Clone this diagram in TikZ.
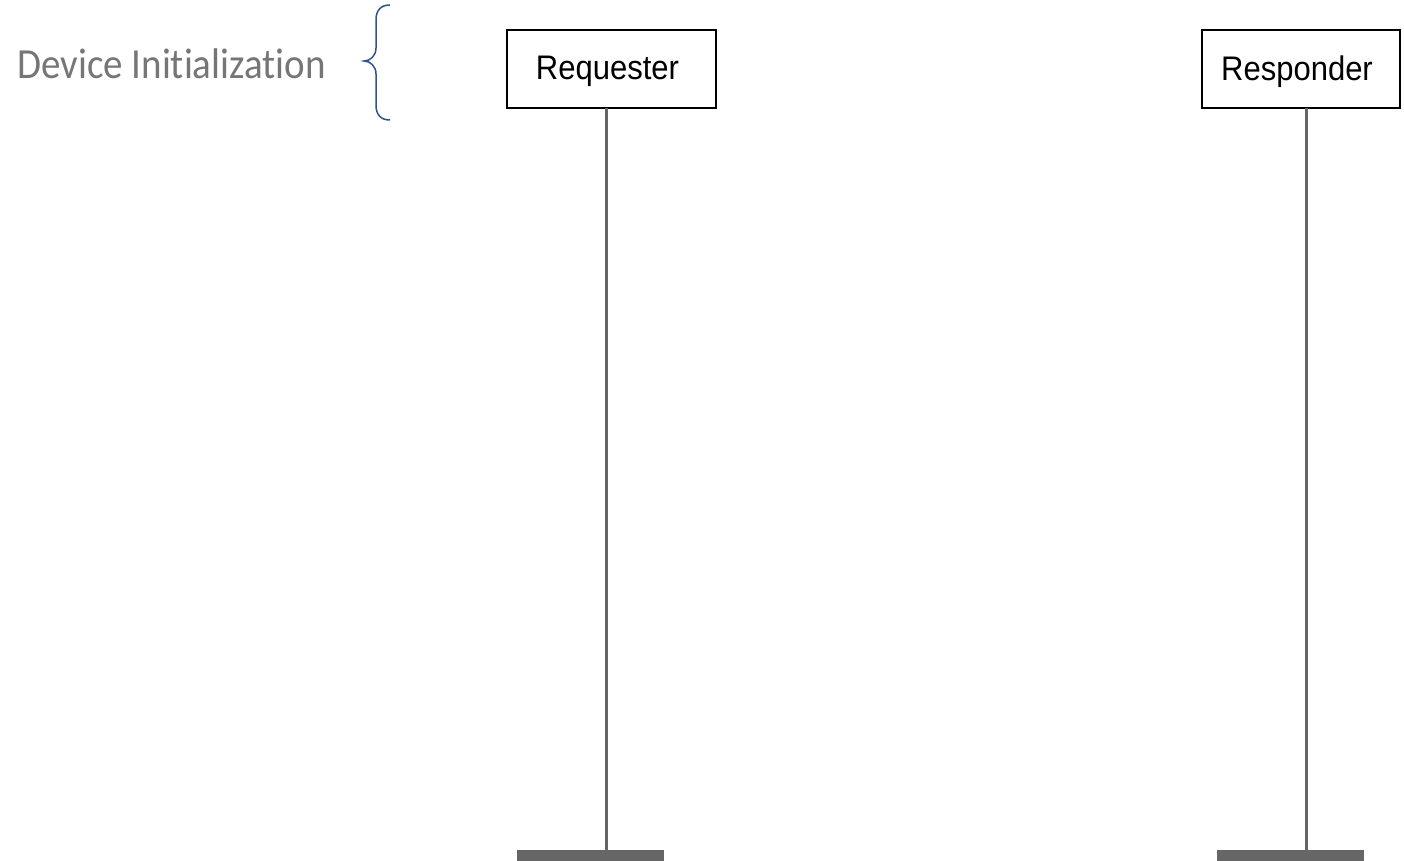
\documentclass[tikz,border=0pt]{standalone}
\usepackage{fontspec}
\setmainfont{Liberation Sans}
\newfontfamily\notefont[Ligatures=NoCommon]{Carlito}
\definecolor{lifegray}{HTML}{666666}
\definecolor{notegray}{HTML}{767676}
\definecolor{braceblue}{HTML}{2E5391}
% actor caption, nudged left and down inside its box without changing the box size
\newcommand\actorcaption[1]{\kern-4pt\raisebox{-2.5pt}[\height][\depth]{\scalebox{1}[1.1]{#1}}\kern4pt}
\begin{document}
\begin{tikzpicture}[x=1pt,y=-1pt,
  actor/.style={draw=black,line width=1.4pt,fill=white,inner sep=0pt,
    minimum height=78pt,font=\fontsize{31}{34}\selectfont},
  lifeline/.style={draw=lifegray,line width=3.5pt},
  endbar/.style={fill=lifegray,draw=none,inner sep=0pt,minimum width=147pt,minimum height=11pt},
  notetext/.style={text=notegray,inner sep=0pt,font=\notefont\fontsize{39}{42}\selectfont},
  bracestyle/.style={draw=braceblue,line width=1.5pt}]
\useasboundingbox (0,0) rectangle (1404,861);

% phase label and its brace
\node[notetext,anchor=base west] (phase) at (17,79) {\scalebox{1}[1.1]{Device Initialization}};
\draw[bracestyle] (390,5) .. controls (381,5) and (376,10) .. (376,20)
  -- (376,48) .. controls (376,56) and (370,61) .. (364,61)
  .. controls (370,61) and (376,66) .. (376,74)
  -- (376,105) .. controls (376,115) and (381,120) .. (390,120);

% participants
\node[actor,minimum width=209pt] (req) at (611.5,69) {\actorcaption{Requester}};
\node[actor,minimum width=198pt] (resp) at (1301,69) {\actorcaption{Responder}};

% end bars
\node[endbar] (reqend) at (590.5,855.5) {};
\node[endbar] (respend) at (1290.5,855.5) {};

% lifelines
\coordinate (reqtop) at (606.7,108);
\coordinate (resptop) at (1306.7,108);
\draw[lifeline] (reqtop) -- (reqtop |- reqend.north);
\draw[lifeline] (resptop) -- (resptop |- respend.north);
\end{tikzpicture}
\end{document}
